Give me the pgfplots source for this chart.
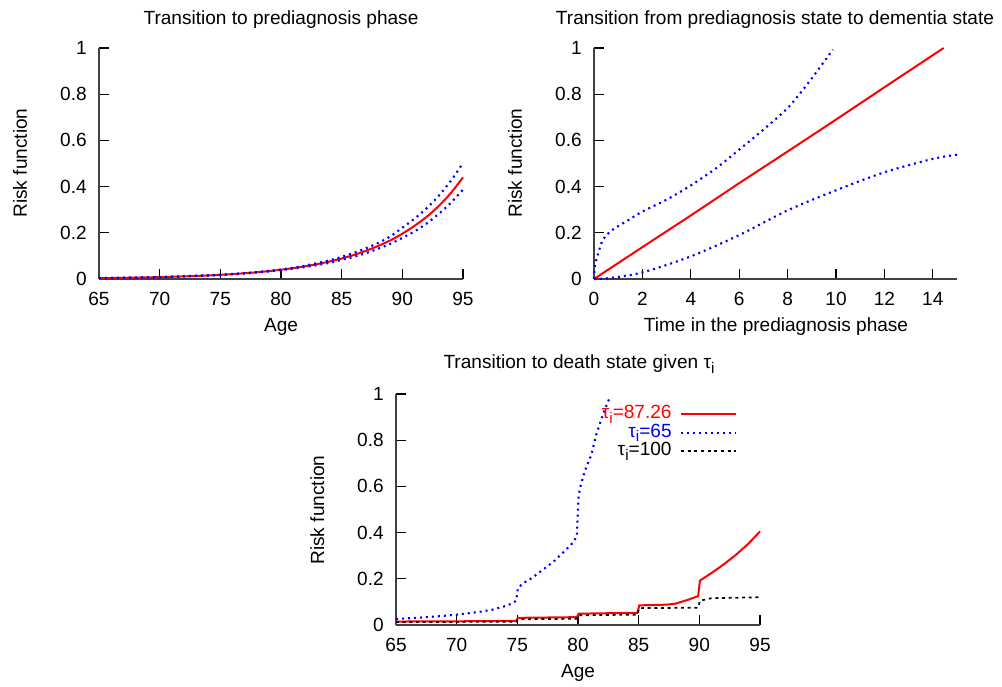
\documentclass[border=0pt]{standalone}
\usepackage{fontspec}
\setmainfont{Liberation Sans}
\usepackage{pgfplots}
\pgfplotsset{compat=1.18}
\definecolor{axgray}{RGB}{64,64,64}
\newcommand\subi{\raisebox{-0.45ex}{\fontsize{11.5pt}{12pt}\selectfont i}}
\pgfplotsset{
  myaxis/.style={
    scale only axis, anchor=south west,
    width=273pt, height=173.25pt,
    axis x line=bottom, axis y line=left,
    axis line style={-, axgray, line width=1.4pt},
    tick align=inside, major tick length=7.5pt,
    tick style={black, line width=0.8pt},
    ymin=0, ymax=1, ytick={0,0.2,0.4,0.6,0.8,1},
    /pgf/number format/assume math mode=true,
    ticklabel style={font=\fontsize{14.3pt}{17pt}\selectfont},
    xticklabel style={inner sep=0pt, anchor=north, yshift=-9.5pt},
    yticklabel style={inner sep=0pt, anchor=east, xshift=-9pt},
    clip=false,
  },
  red line/.style={red, line width=1.5pt},
  blue dot/.style={blue, line width=1.6pt, dash pattern=on 1.5pt off 3pt},
  black dot/.style={black, line width=1.3pt, dash pattern=on 2.2pt off 2.8pt},
}
\begin{document}
\begin{tikzpicture}[font=\fontsize{14.3pt}{17pt}\selectfont]
\path (0pt,0pt) rectangle (751.5pt,-514.5pt);
% ---------------- top left
\begin{axis}[myaxis, at={(74.25pt,-209.25pt)},
  xmin=65, xmax=95, xtick={65,70,75,80,85,90,95}]
\addplot[red line, smooth] coordinates {
(65,0.0037)(66,0.0043)(67,0.0051)(68,0.0060)(69,0.0070)(70,0.0082)(71,0.0096)(72,0.0113)
(73,0.0132)(74,0.0155)(75,0.0181)(76,0.0213)(77,0.0249)(78,0.0292)(79,0.0342)(80,0.0401)
(81,0.0470)(82,0.0551)(83,0.0646)(84,0.0757)(85,0.0887)(86,0.104)(87,0.122)(88,0.143)
(89,0.167)(90,0.196)(91,0.230)(92,0.269)(93,0.316)(94,0.372)(95,0.440)};
\addplot[blue dot, smooth] coordinates {
(65,0.0037)(70,0.0083)(75,0.0185)(78,0.030)(80,0.0413)(82,0.058)(84,0.081)(85,0.096)
(86,0.113)(87,0.133)(88,0.156)(89,0.184)(90,0.222)(91,0.261)(92,0.306)(93,0.360)(94,0.425)(95,0.502)};
\addplot[blue dot, smooth] coordinates {
(65,0.0036)(70,0.0080)(75,0.0175)(78,0.028)(80,0.0389)(82,0.052)(84,0.070)(85,0.083)
(86,0.096)(87,0.112)(88,0.131)(89,0.152)(90,0.178)(91,0.206)(92,0.240)(93,0.282)(94,0.330)(95,0.387)};
\end{axis}
\node at (210.75pt,-15pt) {Transition to prediagnosis phase};
\node at (210.75pt,-245pt) {Age};
\node[rotate=90] at (15pt,-122.25pt) {Risk function};
% ---------------- top right
\begin{axis}[myaxis, at={(445.5pt,-209.25pt)}, width=272.25pt,
  xmin=0, xmax=15, xtick={0,2,4,6,8,10,12,14}]
\addplot[red line] coordinates {
(0,0)(2,0.138)(4,0.275)(6,0.415)(8,0.552)(10,0.69)(12,0.83)(14.45,1)};
\addplot[blue dot, smooth] coordinates {
(0,0)(0.03,0.05)(0.1,0.084)(0.37,0.17)(0.78,0.214)(1.34,0.25)(2.02,0.293)(2.99,0.343)
(4,0.405)(5.05,0.48)(6,0.56)(6.98,0.645)(8,0.74)(8.9,0.855)(9.87,0.993)};
\addplot[blue dot, smooth] coordinates {
(0,0)(0.65,0.004)(2.02,0.029)(4,0.098)(6,0.19)(8,0.297)(10,0.384)(12,0.462)(14,0.52)(15,0.538)};
\end{axis}
\node at (581.25pt,-15pt) {Transition from prediagnosis state to dementia state};
\node at (582pt,-245pt) {Time in the prediagnosis phase};
\node[rotate=90] at (386.25pt,-122.25pt) {Risk function};
% ---------------- bottom
\begin{axis}[myaxis, at={(297pt,-468.75pt)},
  xmin=65, xmax=95, xtick={65,70,75,80,85,90,95},
  legend plot pos=right, legend cell align=right,
  legend style={draw=none, fill=none, at={(0.948,0.965)}, anchor=north east,
    row sep=0pt, /tikz/column sep=6pt,
    nodes={inner sep=0.3pt, text height=10pt, text depth=3.3pt},
    font=\fontsize{14.3pt}{17pt}\selectfont},
  legend image code/.code={\draw[#1] (0pt,0pt) -- (41pt,0pt);}]
\addplot[red line] coordinates {
(65,0.015)(70,0.016)(74.9,0.018)(75.05,0.031)(79.9,0.034)(80.05,0.049)(84.9,0.053)
(85.05,0.085)(87.26,0.088)(88,0.092)(89,0.108)(89.9,0.125)(90.05,0.192)(91,0.225)
(92,0.262)(93,0.303)(94,0.35)(95,0.405)};
\addlegendentry{\color{red}τ\subi=87.26}
\addplot[blue dot] coordinates {
(65,0.026)(66,0.029)(67,0.032)(68,0.036)(69,0.040)(70,0.045)(71,0.051)(72,0.058)
(73,0.067)(74,0.082)(74.6,0.094)(74.9,0.105)(75.05,0.16)(75.5,0.182)(76,0.196)
(77,0.235)(78,0.275)(79,0.325)(79.6,0.358)(79.9,0.385)(80.05,0.56)(80.2,0.60)
(80.55,0.665)(81.1,0.737)(81.5,0.824)(82.1,0.918)(82.6,0.983)};
\addlegendentry{\color{blue}τ\subi=65}
\addplot[black dot] coordinates {
(65,0.013)(74.9,0.014)(75.05,0.025)(79.9,0.027)(80.05,0.042)(84.9,0.045)(85.05,0.073)
(89.9,0.075)(90.05,0.105)(91,0.116)(95,0.12)};
\addlegendentry{τ\subi=100}
\end{axis}
\node at (434.25pt,-273pt) {Transition to death state given τ\subi};
\node at (433.5pt,-505pt) {Age};
\node[rotate=90] at (238pt,-382.5pt) {Risk function};
\end{tikzpicture}
\end{document}
